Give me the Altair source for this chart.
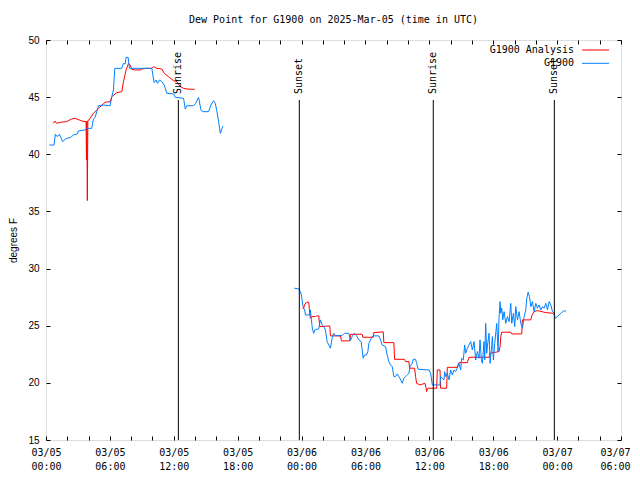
import altair as alt
import pandas as pd

# ---------------- data (hours after 2025-03-05 00:00 UTC, degrees F) ----------------
obs1_h = [0.314,0.753,0.878,1.067,1.255,1.568,1.882,2.321,2.572,2.948,3.042,3.669,3.826,4.296,4.453,4.61,4.767,4.924,5.394,6.021,
          6.178,6.335,6.46,7.119,7.275,7.432,7.526,7.714,7.84,9.941,10.035,10.16,10.348,10.474,10.662,10.882,11.101,11.352,11.979,12.136,
          12.92,13.077,13.233,13.861,14.049,14.331,14.55,14.739,15.272,15.491,15.742,15.899,16.056,16.212,16.369,16.526,16.62]
obs1_v = [40.81,40.81,41.75,41.54,41.75,41.11,41.37,41.48,41.69,41.78,42.04,42.13,42.27,42.27,43.09,43.23,43.73,44.25,44.31,44.25,
          45.04,45.63,47.52,47.52,47.96,47.90,48.48,48.48,47.52,47.52,46.94,46.27,46.50,46.21,46.50,46.35,46.06,45.33,45.28,44.98,
          44.90,43.96,44.25,44.25,44.46,44.98,43.88,43.73,43.73,44.31,44.69,44.46,43.73,42.86,41.83,42.27,42.48]

obs2_h = [23.327,23.735,23.891,23.986,24.111,24.205,24.299,24.362,24.769,24.832,24.926,25.02,25.146,25.24,25.459,25.616,25.71,25.773,25.93,26.087,
          26.243,26.4,26.557,26.714,26.87,27.027,27.184,27.811,28.031,28.438,28.595,28.752,28.971,29.16,29.379,29.599,29.693,29.787,29.912,30.1,
          30.226,30.32,30.477,30.634,30.79,31.261,31.417,31.574,31.888,32.044,32.201,32.358,32.515,32.672,32.828,32.985,33.142,33.236,33.456,33.612,
          33.769,33.926,34.083,34.177,34.396,34.49,34.71,34.804,34.961,35.964,36.121,36.278,
          36.999,37.061,37.218,37.375,37.438,37.532,37.689,37.845,38.002,38.159,38.316,38.473,38.629,38.786,38.943,39.037,39.194,39.319,39.413,39.57,
          39.727,39.884,40.04,40.197,40.354,40.511,40.668,40.762,40.887,40.981,41.138,41.201,41.295,41.389,41.452,41.608,41.702,41.828,41.922,42.016,
          42.141,42.33,42.455,42.549,42.643,42.706,42.8,42.894,43.019,43.176,43.333,43.49,43.647,43.741,43.897,44.023,44.117,44.274,44.43,44.587,
          44.744,44.901,45.058,45.152,45.277,45.403,45.528,45.685,45.842,45.999,46.155,46.312,46.469,46.626,46.782,46.939,47.096,47.253,47.41,47.566,
          47.723,47.817,48.037,48.35,48.601,48.852]
obs2_v = [28.28,28.22,27.98,27.69,26.82,26.53,26.38,25.94,25.94,26.38,25.51,24.69,24.34,24.63,24.69,24.72,25.21,25.51,25.07,24.92,
          24.63,23.61,23.32,23.03,23.90,24.34,24.13,24.13,24.34,24.34,23.70,24.05,24.34,24.13,23.76,23.61,22.88,22.15,22.44,22.44,
          22.74,23.46,23.76,24.05,24.11,24.11,23.76,23.32,23.17,22.44,21.86,21.57,21.42,20.55,20.55,20.78,20.55,20.40,19.96,20.40,
          20.55,20.69,20.84,21.42,21.71,22.06,22.06,21.71,21.19,21.13,20.84,19.82,
          19.82,20.55,20.40,20.26,20.99,20.55,20.84,20.26,21.13,20.69,21.13,20.99,21.28,21.71,21.13,22.15,22.01,23.32,22.59,23.03,
          23.32,23.61,22.88,23.61,22.01,22.74,22.15,23.76,22.01,21.71,23.61,22.01,25.21,22.59,23.17,24.34,21.71,22.88,24.05,22.01,
          23.46,25.21,22.74,25.80,27.11,26.09,26.53,25.51,26.23,25.21,25.80,25.36,26.96,25.21,26.09,24.92,26.67,25.51,26.23,25.21,
          24.78,25.80,26.38,27.40,27.93,27.55,26.67,27.11,26.23,26.96,26.53,26.82,26.38,26.67,26.53,26.96,26.38,27.11,26.82,26.23,
          26.09,25.65,25.80,26.09,26.29,26.29]

ana1_h = [0.69,0.847,1.004,1.38,1.945,2.415,2.729,3.136,3.356,3.763,3.80,3.84,3.88,3.93,4.046,4.14,4.453,4.924,5.551,6.021,
          6.178,6.648,7.119,7.275,7.526,7.746,7.903,8.059,8.373,8.843,9.0,9.408,9.941,10.097,10.411,10.882,11.101,11.509,11.979,12.293,
          12.606,12.92,13.233,13.955]
ana1_v = [42.71,42.91,42.71,42.80,42.86,43.09,43.15,43.00,42.91,42.86,39.50,42.90,35.95,42.95,43.00,43.15,43.58,44.02,44.55,44.60,
          45.04,45.39,45.48,46.35,47.38,47.96,47.81,47.43,47.38,47.38,47.46,47.52,47.52,47.67,47.52,47.46,47.08,46.79,46.44,46.35,
          45.92,45.77,45.71,45.68]

ana2_h = [24.08,24.205,24.268,24.456,24.675,24.738,24.832,24.989,25.303,25.397,25.616,25.71,26.651,26.714,27.654,27.748,28.532,28.595,29.693,29.755,
          30.727,30.79,31.668,31.731,32.672,32.734,33.675,33.769,34.083,34.145,34.616,34.71,34.804,35.118,35.588,35.682,35.745,35.87,36.685,36.748,
          36.999,37.061,37.626,37.689,38.629,38.692,38.786,39.57,39.727,41.608,41.702,42.549,42.643,42.706,42.8,43.647,43.741,44.681,44.744,45.528,
          45.622,45.842,46.155,46.939,47.566,47.723]
ana2_v = [26.53,26.53,26.82,27.05,27.05,26.38,25.65,25.80,25.80,25.86,25.86,24.92,24.98,24.11,24.11,23.67,23.67,24.25,24.25,23.99,
          23.99,24.40,24.46,23.52,23.52,22.06,22.06,21.86,21.86,21.28,21.28,20.55,19.96,19.82,19.96,19.61,19.24,19.53,19.53,21.13,
          21.13,19.53,19.53,21.36,21.36,21.57,21.77,21.77,22.24,22.24,22.59,22.74,23.17,24.05,24.43,24.43,24.28,24.28,25.51,25.51,
          25.88,26.23,26.32,26.15,26.09,26.00]

sun_events = ["Sunrise", "Sunset", "Sunrise", "Sunset"]
sun_h = [12.43, 23.79, 36.37, 47.74]

series_names = ["G1900 Analysis", "G1900"]
series_colors = ["#ff0000", "#0080ff"]
y_ticks = [15, 20, 25, 30, 35, 40, 45, 50]
title_text = "Dew Point for G1900 on 2025-Mar-05 (time in UTC)"
y_title = "degrees F"

MONO = "DejaVu Sans Mono"
SANS = "Liberation Sans"

BASE = pd.Timestamp("2025-03-05T00:00:00", tz="UTC")


def stamp(hours):
    return [(BASE + pd.Timedelta(hours=h)).strftime("%Y-%m-%dT%H:%M:%SZ") for h in hours]


def frame(series, parts):
    rows = []
    for seg, (hs, vs) in enumerate(parts):
        for t, v in zip(stamp(hs), vs):
            rows.append({"time": t, "dewpoint": v, "series": series, "segment": seg})
    return pd.DataFrame(rows)


df_ana = frame(series_names[0], [(ana1_h, ana1_v), (ana2_h, ana2_v)])
df_obs = frame(series_names[1], [(obs1_h, obs1_v), (obs2_h, obs2_v)])
df_sun = pd.DataFrame({"time": stamp(sun_h), "event": sun_events})

x_scale = alt.Scale(type="utc", domain=[alt.DateTime(year=2025, month=3, date=5, hours=0, utc=True),
                                        alt.DateTime(year=2025, month=3, date=7, hours=6, utc=True)])
y_scale = alt.Scale(domain=[15, 50], nice=False, zero=False)
tick_vals = [alt.DateTime(year=2025, month=3, date=5 + h // 24, hours=h % 24, utc=True) for h in range(0, 55, 2)]

x_axis = alt.Axis(values=tick_vals,
                  labelExpr="utchours(datum.value) % 6 == 0 ? [utcFormat(datum.value, '%m/%d'), utcFormat(datum.value, '%H:%M')] : ''",
                  labelFont=MONO, labelFontSize=10, labelColor="black", labelPadding=11, labelLineHeight=14,
                  labelBaseline="top", labelAlign="center", labelOverlap=False, labelFlush=False,
                  labelOffset={"condition": {"test": "utcdate(datum.value) == 7 && utchours(datum.value) == 6",
                                             "value": -6}, "value": 0},
                  tickSize={"expr": "-4"}, tickColor="black", domain=False, grid=False, title=None)
y_axis = alt.Axis(values=y_ticks, labelFont=SANS, labelFontSize=10, labelColor="black", labelPadding=11,
                  tickSize={"expr": "-4"}, tickColor="black", domain=False, grid=False,
                  title=y_title, titleFont=SANS, titleFontSize=10, titleFontWeight="normal", titleColor="black",
                  titleX=-33, titleY=200, titleAngle=270, titleAlign="center", titleBaseline="middle")
x_axis_top = alt.Axis(orient="top", values=tick_vals, labels=False, tickSize={"expr": "-4"}, tickColor="black",
                      domain=False, grid=False, title=None)
y_axis_right = alt.Axis(orient="right", values=y_ticks, labels=False, tickSize={"expr": "-4"}, tickColor="black",
                        domain=False, grid=False, title=None)


def line_layer(df, color, axes=False):
    return alt.Chart(df).mark_line(color=color, strokeWidth=1, interpolate="linear").encode(
        x=alt.X("time:T", scale=x_scale, axis=x_axis if axes else None),
        y=alt.Y("dewpoint:Q", scale=y_scale, axis=y_axis if axes else None),
        detail="segment:N",
        order="time:T",
    )


red = line_layer(df_ana, series_colors[0], axes=True)
blue = line_layer(df_obs, series_colors[1])

mirror = alt.Chart(df_obs).mark_line(opacity=0).encode(
    x=alt.X("time:T", scale=x_scale, axis=x_axis_top),
    y=alt.Y("dewpoint:Q", scale=y_scale, axis=y_axis_right),
    detail="segment:N",
)

sun_rules = alt.Chart(df_sun).mark_rule(color="black", strokeWidth=1).encode(
    x=alt.X("time:T", scale=x_scale, axis=None),
    y=alt.value(60),
    y2=alt.value(400),
)
sun_text = alt.Chart(df_sun).mark_text(angle=270, align="left", baseline="middle", font=MONO, fontSize=10,
                                       color="black").encode(
    x=alt.X("time:T", scale=x_scale, axis=None),
    y=alt.value(54),
    text="event:N",
)

legend_layers = []
for i, (name, color) in enumerate(zip(series_names, series_colors)):
    ypos = 10 + 13.3 * i
    ldf = pd.DataFrame({"name": [name]})
    legend_layers.append(alt.Chart(ldf).mark_text(align="right", baseline="middle", font=MONO, fontSize=10,
                                                  color="black").encode(
        x=alt.value(528), y=alt.value(ypos), text="name:N"))
    legend_layers.append(alt.Chart(ldf).mark_rule(color=color, strokeWidth=1).encode(
        x=alt.value(536), x2=alt.value(563), y=alt.value(ypos)))

chart = alt.layer(red, blue, mirror, sun_rules, sun_text, *legend_layers).resolve_axis(
    x="independent", y="independent"
).properties(
    width=575, height=400,
    title=alt.TitleParams(title_text, font=MONO, fontSize=10, fontWeight="normal", color="black",
                          offset=10, anchor="middle"),
    padding={"left": 38, "top": 32, "right": 11, "bottom": 31},
    autosize=alt.AutoSizeParams(type="none"),
).configure_view(stroke="black", strokeWidth=1).configure(background="white")

chart.save("out.html", embed_options={"renderer": "svg", "actions": False})
